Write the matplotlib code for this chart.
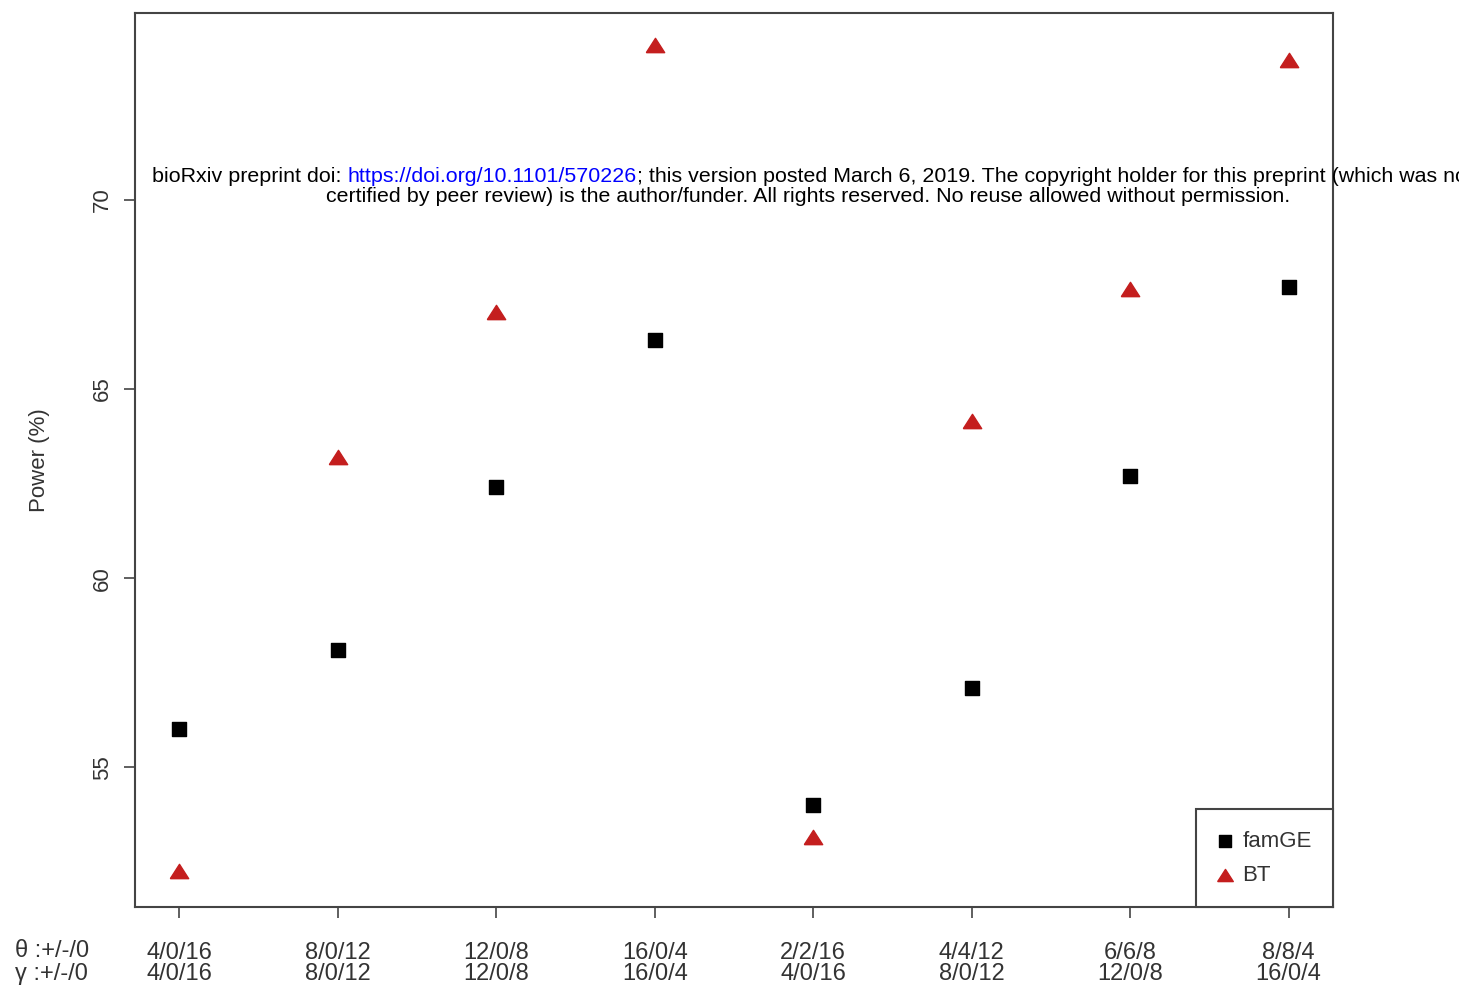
"""power comparison plot: famGE vs BT across theta/gamma settings"""

import numpy as np
import matplotlib.pyplot as plt

plt.rcParams['font.family'] = ['Liberation Sans', 'DejaVu Sans']

# settings on the x axis (theta row, gamma row)
theta_labels = ['4/0/16', '8/0/12', '12/0/8', '16/0/4', '2/2/16', '4/4/12', '6/6/8', '8/8/4']
gamma_labels = ['4/0/16', '8/0/12', '12/0/8', '16/0/4', '4/0/16', '8/0/12', '12/0/8', '16/0/4']

# power (%) for each method
famge_power = [56.0, 58.1, 62.4, 66.3, 54.0, 57.1, 62.7, 67.7]
bt_power = [52.25, 63.2, 67.05, 74.1, 53.15, 64.15, 67.65, 73.7]

x = np.arange(1, len(theta_labels) + 1)
txt_col = '#333333'
frame_col = '#444444'

# flat filled triangle, like R's pch 17
tri = [(-1, -0.78), (1, -0.78), (0, 0.78), (-1, -0.78)]

fig = plt.figure(figsize=(14.59, 9.89), dpi=100)
ax = fig.add_axes([135 / 1459, 1 - 907 / 989, 1198 / 1459, 894 / 989])

ax.scatter(x, famge_power, marker='s', s=105, color='black', label='famGE', zorder=3)
ax.scatter(x, bt_power, marker=tri, s=175, color='#c41e1e', label='BT', zorder=3)

# R-style 4% padding around the data
ax.set_xlim(0.72, 8.28)
ax.set_ylim(51.30, 74.95)

ax.set_xticks(x)
ax.set_xticklabels([f'{t}\n{g}' for t, g in zip(theta_labels, gamma_labels)],
                   fontsize=17, color=txt_col, linespacing=0.93)
ax.set_yticks([55, 60, 65, 70])
ax.set_yticklabels(['55', '60', '65', '70'], rotation=90, va='center',
                   fontsize=16, color=txt_col)
ax.tick_params(axis='both', direction='out', length=8, width=1.2, color=frame_col)
ax.tick_params(axis='x', pad=17)
ax.tick_params(axis='y', pad=8)
for sp in ax.spines.values():
    sp.set_color(frame_col)
    sp.set_linewidth(1.5)

ax.set_ylabel('Power (%)', fontsize=16, color=txt_col, labelpad=30)

# row labels for the two-line tick labels
fig.text(15 / 1459, 1 - 951 / 989, 'θ :+/-/0', fontsize=17, color=txt_col,
         ha='left', va='center')
fig.text(15 / 1459, 1 - 974 / 989, 'γ :+/-/0', fontsize=17, color=txt_col,
         ha='left', va='center')

leg = ax.legend(loc='lower right', borderaxespad=0, fancybox=False, framealpha=1,
                edgecolor=frame_col, fontsize=16, handletextpad=0.45,
                borderpad=0.95, labelspacing=0.6, handlelength=0.7, markerscale=0.85)
leg.get_frame().set_linewidth(1.5)
for t in leg.get_texts():
    t.set_color(txt_col)

# preprint banner across the plot, pieces placed end to end
fig.canvas.draw()
renderer = fig.canvas.get_renderer()
y1 = 1 - 176 / 989
xpos = 152 / 1459
pieces = [('bioRxiv preprint doi: ', 'black'),
          ('https://doi.org/10.1101/570226', '#0000ff'),
          ('; this version posted March 6, 2019. The copyright holder for this preprint (which was not', 'black')]
for s, c in pieces:
    t = fig.text(xpos, y1, s, fontsize=15.4, color=c, ha='left', va='center')
    bb = t.get_window_extent(renderer)
    xpos = bb.x1 / fig.bbox.width
fig.text(808 / 1459, 1 - 197 / 989,
         'certified by peer review) is the author/funder. All rights reserved. No reuse allowed without permission.',
         fontsize=15.4, ha='center', va='center')

fig.savefig('out.png', dpi=100)
